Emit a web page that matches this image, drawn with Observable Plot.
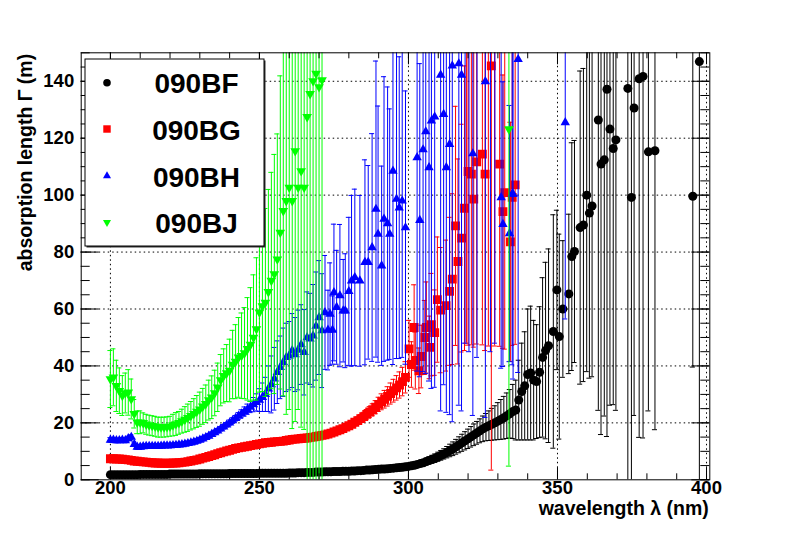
<!DOCTYPE html>
<html>
<head>
<meta charset="utf-8">
<script src="https://cdn.jsdelivr.net/npm/d3@7"></script>
<script src="https://cdn.jsdelivr.net/npm/@observablehq/plot@0.6"></script>
<style>
  html, body { margin: 0; padding: 0; background: white; }
  #chart svg { display: block; }
</style>
</head>
<body>
<div id="chart"></div>
<script>
// ---------- data ----------
const grid = [
200,201,202,203,204,205,206,207,208,209,210,211,212,213,214,215,216,217,218,219,
220,221,222,223,224,225,226,227,228,229,230,231,232,233,234,235,236,237,238,239,
240,241,242,243,244,245,246,247,248,249,250,251,252,253,254,255,256,257,258,259,
260,261,262,263,264,265,266,267,268,269,270,271,272,273,274,275,276,277,278,279,
280,281,282,283,284,285,286,287,288,289,290,291,292,293,294,295,296,297,298,299,
300,301,302,303,304,305,306,307,308,309,310,311,312,313,314,315,316,317,318,319,
320,321,322,323,324,325,326,327,328,329,330,331,332,333,334,335,336,337,338,339,
340,341,342,343,344,345,346,347];

// 090BF (black circles)
const bfVal = [
1.8,1.8,1.8,1.8,1.8,1.8,1.8,1.8,1.8,1.8,
1.9,1.9,1.9,1.9,1.9,1.9,1.9,1.9,1.9,1.9,
2.0,2.0,2.0,2.0,2.0,2.0,2.0,2.0,2.0,2.0,
2.1,2.1,2.1,2.1,2.1,2.1,2.1,2.1,2.1,2.1,
2.2,2.2,2.2,2.2,2.2,2.2,2.2,2.2,2.2,2.2,
2.3,2.3,2.3,2.3,2.3,2.3,2.3,2.3,2.3,2.3,
2.4,2.4,2.4,2.5,2.5,2.5,2.6,2.6,2.6,2.7,
2.7,2.7,2.8,2.8,2.8,2.9,2.9,2.9,3.0,3.0,
3.0,3.1,3.1,3.2,3.2,3.3,3.4,3.4,3.5,3.6,
3.7,3.8,3.8,3.9,4.0,4.1,4.2,4.3,4.4,4.6,
4.7,4.9,5.1,5.4,5.7,6.0,6.4,6.8,7.2,7.6,
8.1,8.6,9.1,9.7,10.3,10.9,11.6,12.3,13.0,13.7,
14.4,15.1,15.8,16.5,17.2,17.9,18.5,19.0,19.5,20.0,
20.6,21.2,21.8,22.5,23.2,24.0,24.5,28.0,31.0,33.0,
37.0,37.5,35.0,34.5,37.8,43.0,45.4,47.1];
const bfErr = [
0.2,0.2,0.2,0.2,0.2,0.2,0.2,0.2,0.2,0.2,
0.2,0.2,0.2,0.2,0.2,0.2,0.2,0.2,0.2,0.2,
0.2,0.2,0.2,0.2,0.2,0.2,0.2,0.2,0.2,0.2,
0.2,0.2,0.2,0.2,0.2,0.2,0.2,0.2,0.2,0.2,
0.2,0.2,0.2,0.2,0.2,0.2,0.2,0.2,0.2,0.2,
0.2,0.2,0.2,0.2,0.2,0.2,0.2,0.2,0.2,0.2,
0.3,0.3,0.3,0.3,0.3,0.3,0.3,0.3,0.3,0.3,
0.3,0.3,0.3,0.3,0.3,0.3,0.3,0.3,0.3,0.3,
0.3,0.3,0.3,0.3,0.3,0.3,0.3,0.3,0.3,0.3,
0.3,0.3,0.3,0.3,0.3,0.3,0.3,0.3,0.3,0.3,
0.6,0.7,0.8,0.9,1.0,1.1,1.2,1.3,1.4,1.5,
1.6,1.7,1.8,2.0,2.2,2.4,2.6,2.8,3.0,3.2,
3.4,3.6,3.8,4.0,4.2,4.5,4.8,5.2,5.6,6.0,
6.5,7.0,7.5,8.0,8.5,9.5,10.5,14.0,17.0,19.0,
23.0,23.5,21.0,20.0,23.0,28.0,31.0,34.0];
const bfTailWl  = [348.6,349.8,350.6,351.8,353.8,354.8,355.7,357.6,358.7,359.8,360.7,361.6,363.7,364.6,365.7,366.6,367.6,368.7,369.6,373.6,374.8,375.7,377.4,378.7,380.5,382.7,395.4,397.6];
const bfTailVal = [52.1,66.7,50.3,60.0,65.3,78.4,80.2,88.6,89.5,100.0,93.7,96.2,126.4,110.9,112.4,137.2,123.2,116.4,119.4,137.5,99.2,130.6,140.9,141.7,115.2,115.6,99.6,146.9];
const bfTailErr = [41,28,36,24,28,40,39,55,55,62,58,60,102,95,90,122,97,90,95,142,110,108,126,127,91,98,60,150];

// 090BG (red squares)
const bgVal = [
7.4,7.4,7.3,7.3,7.2,7.1,7.0,6.8,6.6,6.5,
6.4,6.3,6.2,6.1,6.0,5.9,5.9,5.8,5.8,5.8,
5.8,5.9,5.9,6.0,6.1,6.2,6.4,6.6,6.8,7.0,
7.3,7.6,7.9,8.2,8.5,8.8,9.2,9.5,9.8,10.1,
10.4,10.7,11.0,11.2,11.4,11.6,11.8,12.0,12.2,12.4,
12.6,12.8,13.0,13.1,13.2,13.3,13.4,13.5,13.6,13.8,
14.0,14.2,14.3,14.4,14.5,14.6,14.7,14.9,15.0,15.2,
15.4,15.6,15.8,16.1,16.4,16.8,17.2,17.6,18.0,18.5,
19.0,19.5,20.2,20.8,21.5,22.2,23.0,23.8,24.6,25.5,
26.5,27.4,28.3,29.3,30.3,31.3,32.3,33.3,34.5,36.0];
const bgErr = [
0.4,0.4,0.4,0.4,0.4,0.4,0.4,0.4,0.4,0.4,
0.4,0.4,0.4,0.4,0.4,0.4,0.4,0.4,0.4,0.4,
0.4,0.4,0.4,0.4,0.4,0.4,0.4,0.4,0.4,0.4,
0.4,0.4,0.4,0.4,0.4,0.4,0.4,0.4,0.4,0.4,
0.4,0.4,0.4,0.4,0.4,0.4,0.4,0.4,0.4,0.4,
0.6,0.6,0.6,0.6,0.6,0.6,0.6,0.6,0.6,0.6,
0.6,0.6,0.6,0.6,0.6,0.6,0.6,0.6,0.6,0.6,
0.6,0.6,0.6,0.6,0.6,0.6,0.6,0.6,0.6,0.6,
1.0,1.1,1.2,1.3,1.4,1.5,1.7,1.9,2.1,2.3,
2.5,2.8,3.1,3.4,3.7,4.0,4.3,4.6,5.0,5.5];
const bgNoisyWl  = [300.2,301.0,301.9,302.3,303.5,304.3,305.5,306.0,307.1,307.7,308.8,309.7,310.8,312.6,313.8,314.7,315.8,316.6,317.8,318.8,319.5,320.0,321.1,321.9,322.9,324.8,325.7,326.8,327.8,328.9,330.6,331.7,332.3,334.2,334.8,335.8];
const bgNoisyVal = [46,40.5,53.5,41.9,38.3,43.3,50,53.5,46.5,54.5,51.7,63.3,59.6,61.2,66.2,70.5,89.2,76.7,84.9,95.4,160,108.3,107.4,98.6,111.7,114.4,107.4,165,145.4,160,110.9,94.2,100.9,83.6,99.2,103.6];
const bgNoisyErr = [10,8,15,10,8,11,13,16,11,18,15,22,22,23,26,30,42,36,40,50,112,61,60,52,64,67,62,118,142,113,64,48,55,42,52,56];

// 090BH (blue triangles)
const bhVal = [
14.0,14.0,13.8,13.8,14.0,13.8,14.5,15.0,12.5,11.5,
11.5,11.7,11.8,11.8,11.8,11.8,11.8,11.9,12.0,12.0,
12.0,12.1,12.2,12.3,12.4,12.6,12.8,13.0,13.3,13.6,
14.0,14.4,14.9,15.4,16.0,16.6,17.2,17.9,18.6,19.3,
20.0,20.8,21.6,22.4,23.2,24.0,24.8,25.6,26.4,27.2,
28.0,29.0,30.0,32.0,33.5,35.5,37.8,39.5,41.3,43.0,
43.6,45.4,44.0,45.6,47.5,44.8,50.0,49.5,50.6,54.0,57.0,52.4];
const bhErr = [
0.8,0.8,0.8,0.8,0.8,0.8,0.8,0.8,0.8,0.8,
0.8,0.8,0.8,0.8,0.8,0.8,0.8,0.8,0.8,0.8,
0.8,0.8,0.8,0.8,0.8,0.8,0.8,0.8,0.8,0.8,
0.8,0.8,0.8,0.8,0.8,0.8,0.8,0.8,0.8,0.8,
1.0,1.0,1.0,1.2,1.4,1.6,1.8,2.0,2.5,3.0,
4,5,6,8,10,11,11,11,12,12,
12,13,13,14,14,15,16,16,18,19,20,20];
const bhNoisyWl  = [272.0,273.0,273.7,274.5,275.0,275.9,277.0,278.1,278.8,280.0,280.9,282.0,283.7,285.4,286.5,287.8,289.1,289.8,291.0,291.8,293.0,293.7,294.8,296.0,296.9,297.9,299.0,302.9,303.8,304.9,305.8,306.9,307.7,308.8,310.8,311.8,312.7,313.8,314.7,316.9,317.8,319.0,320.3,321.6,323.0,325.8,327.5,329.0,331.1,331.7,333.9,334.8,335.1,336.8,352.6];
const bhNoisyVal = [58.8,52.6,58.2,52.6,65.8,60.6,64.7,59.4,59.4,66.2,69.9,71.1,69.9,76.4,76.4,81.6,95.1,86.3,75.2,91.6,90.0,86.3,108.5,98.6,95.6,98.0,88.6,113.2,91.2,116.0,122.3,109.7,126.1,127.5,142.2,128.4,109.7,117.9,145.4,146.2,142.2,160,165,114.6,158,139.9,170,160,99.2,89.8,86.5,100.4,100.4,147.7,125.5];
const bhNoisyErr = [20,14,18,12,24,20,25,18,20,26,30,31,30,36,34,40,52,45,35,50,48,44,68,56,53,55,48,75,55,78,85,75,94,95,118,95,86,95,125,120,118,112,120,92,115,118,125,112,60,50,45,60,65,110,69];

// 090BJ (green inverted triangles)
const bjVal = [
35.4,36.0,33.0,31.3,29.6,30.5,30.7,28.4,23.2,20.2,
20.2,20.0,19.5,19.2,19.0,18.8,18.5,18.5,18.5,18.6,
18.8,19.2,19.6,20.0,20.6,21.2,21.8,22.5,23.2,24.0,
24.8,25.8,26.7,28.0,29.0,30.5,32.5,35.0,36.5,37.5,
38.4,40.5,41.5,43.0,43.6,44.5,46.0,47.5,50.0,53.0,
58.8,61.0,62.3,66.0,70.0,72.3,77.5,86.9,94.5,98.0,
102.7,98.0,115.5,102.7,108.5,102.7,127.5,135.6,140.1,142.7,138.0,140.4];
const bjErr = [
10,10,9,8,7,7,8,7,5,4,
4,3.5,3.5,3.5,3.5,3.5,3.5,3.5,3.5,3.5,
3.5,3.8,4,4,4.2,4.5,4.8,5,5.3,5.6,
6,6.3,6.6,7,7.5,8,8.5,9,9.5,10,
11,12,13,14,15,16,18,20,22,25,
28,30,33,36,38,42,44,55,65,75,
78,80,95,78,90,85,130,140,150,160,150,145];
const bjNoisyWl  = [333.7];
const bjNoisyVal = [123.2];
const bjNoisyErr = [118.4];

// axes / legend text
const xDomain = [190.2, 401.1];
const yDomain = [0, 150];
const xMajor = [200, 250, 300, 350, 400];
const xMinor = [200,210,220,230,240,250,260,270,280,290,300,310,320,330,340,350,360,370,380,390,400];
const yMajor = [0, 20, 40, 60, 80, 100, 120, 140];
const yGrid = [20, 40, 60, 80, 100, 120, 140];
const yMinor = [0,5,10,15,20,25,30,35,40,45,50,55,60,65,70,75,80,85,90,95,100,105,110,115,120,125,130,135,140,145,150];
const xTitle = "wavelength λ (nm)";
const yTitle = "absorption length Γ (m)";
const seriesNames = ["090BF", "090BG", "090BH", "090BJ"];
const seriesColors = ["#000000", "#ff0000", "#0000ff", "#00ff00"];

// ---------- build ----------
const toRows = (wl, val, err) => wl.map((w, i) => ({wl: w, val: val[i], err: err[i]}));
const bf = [...toRows(grid.slice(0, bfVal.length), bfVal, bfErr), ...toRows(bfTailWl, bfTailVal, bfTailErr)];
const bg = [...toRows(grid.slice(0, bgVal.length), bgVal, bgErr), ...toRows(bgNoisyWl, bgNoisyVal, bgNoisyErr)];
const bh = [...toRows(grid.slice(0, bhVal.length), bhVal, bhErr), ...toRows(bhNoisyWl, bhNoisyVal, bhNoisyErr)];
const bj = [...toRows(grid.slice(0, bjVal.length), bjVal, bjErr), ...toRows(bjNoisyWl, bjNoisyVal, bjNoisyErr)];

const W = 789, H = 534;
const mL = 80.7, mR = 79.7, mT = 52.3, mB = 54.7;
const FW = W - mL - mR, FH = H - mT - mB;
const font = "'Liberation Sans', Arial, Helvetica, sans-serif";
const capHalf = 0.85;

function seriesMarks(data, color, symbol, r, rotate) {
  return [
    Plot.ruleX(data, {x: "wl", y1: d => d.val - d.err, y2: d => d.val + d.err, stroke: color, strokeWidth: 1, clip: true}),
    Plot.ruleY(data, {y: d => d.val + d.err, x1: d => d.wl - capHalf, x2: d => d.wl + capHalf, stroke: color, strokeWidth: 1, clip: true}),
    Plot.ruleY(data, {y: d => d.val - d.err, x1: d => d.wl - capHalf, x2: d => d.wl + capHalf, stroke: color, strokeWidth: 1, clip: true}),
    Plot.dot(data, {x: "wl", y: "val", symbol, r, fill: color, rotate, clip: true})
  ];
}

const chart = Plot.plot({
  width: W, height: H,
  marginLeft: mL, marginRight: mR, marginTop: mT, marginBottom: mB,
  style: {background: "white", fontFamily: font, overflow: "visible"},
  x: {domain: xDomain, axis: null},
  y: {domain: yDomain, axis: null},
  marks: [
    // grid
    Plot.ruleX(xMajor, {x: d => d, stroke: "black", strokeWidth: 1, strokeDasharray: "1.5,3"}),
    Plot.ruleY(yGrid, {y: d => d, stroke: "black", strokeWidth: 1, strokeDasharray: "1.5,3"}),
    // data
    ...seriesMarks(bf, seriesColors[0], "circle", 4.5, 0),
    ...seriesMarks(bg, seriesColors[1], "square", 5.0, 0),
    ...seriesMarks(bh, seriesColors[2], "triangle", 3.5, 0),
    ...seriesMarks(bj, seriesColors[3], "triangle", 3.6, 180),
    // ticks (inward, all four sides)
    Plot.tickX(xMinor, {x: d => d, insetTop: FH - 6, stroke: "black"}),
    Plot.tickX(xMajor, {x: d => d, insetTop: FH - 12, stroke: "black"}),
    Plot.tickX(xMinor, {x: d => d, insetBottom: FH - 6, stroke: "black"}),
    Plot.tickX(xMajor, {x: d => d, insetBottom: FH - 12, stroke: "black"}),
    Plot.tickY(yMinor, {y: d => d, insetRight: FW - 9, stroke: "black"}),
    Plot.tickY(yMajor, {y: d => d, insetRight: FW - 18, stroke: "black"}),
    Plot.tickY(yMinor, {y: d => d, insetLeft: FW - 9, stroke: "black"}),
    Plot.tickY(yMajor, {y: d => d, insetLeft: FW - 18, stroke: "black"}),
    Plot.frame({stroke: "black", strokeWidth: 1}),
    // tick labels
    Plot.text(xMajor, {x: d => d, frameAnchor: "bottom", dy: 14.4, text: d => String(d), fontSize: 18.5, fontWeight: "bold", fill: "black"}),
    Plot.text(yMajor, {y: d => d, frameAnchor: "left", textAnchor: "end", dx: -7, text: d => String(d), fontSize: 18.5, fontWeight: "bold", fill: "black"}),
    // axis titles
    Plot.text([xTitle], {frameAnchor: "bottom-right", textAnchor: "end", dx: -1, dy: 35.2, text: d => d, fontSize: 19.5, fontWeight: "bold", fill: "black"}),
    Plot.text([yTitle], {frameAnchor: "top-left", textAnchor: "end", rotate: -90, dx: -63.3, dy: 1, text: d => d, fontSize: 19.5, fontWeight: "bold", fill: "black"})
  ]
});

document.getElementById("chart").appendChild(chart);

// ---------- legend (drawn on top, inside the frame) ----------
const svg = d3.select(chart);
const lg = svg.append("g");
lg.append("rect").attr("x", 86.5).attr("y", 60.5).attr("width", 179).attr("height", 187).attr("fill", "#333");
lg.append("rect").attr("x", 85).attr("y", 59).attr("width", 179).attr("height", 187)
  .attr("fill", "white").attr("stroke", "black").attr("stroke-width", 1);
const legendSymbols = [d3.symbolCircle, d3.symbolSquare, d3.symbolTriangle, d3.symbolTriangle];
const legendSizes = [Math.PI * 3.8 * 3.8, Math.PI * 4.2 * 4.2, Math.PI * 3.0 * 3.0, Math.PI * 3.0 * 3.0];
const legendRot = [0, 0, 0, 180];
const markerY = [82.7, 129, 176, 222.3];
const textY = [92.7, 140, 186.7, 233.3];
seriesNames.forEach((name, i) => {
  lg.append("path")
    .attr("d", d3.symbol().type(legendSymbols[i]).size(legendSizes[i])())
    .attr("transform", `translate(107,${markerY[i]}) rotate(${legendRot[i]})`)
    .attr("fill", seriesColors[i]);
  lg.append("text")
    .attr("x", 196.5).attr("y", textY[i])
    .attr("text-anchor", "middle")
    .attr("font-family", font).attr("font-weight", "bold").attr("font-size", 28)
    .attr("fill", "black")
    .text(name);
});
</script>
</body>
</html>
